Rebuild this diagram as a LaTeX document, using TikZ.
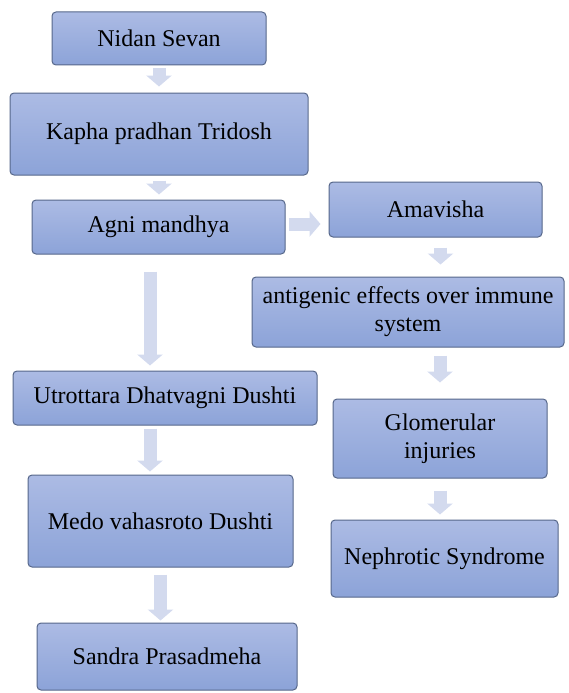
\documentclass[tikz,border=0pt]{standalone}
\usepackage{fontspec}
\setmainfont{LiberationSerif}[Extension=.ttf, UprightFont=*-Regular, BoldFont=*-Bold]
\usetikzlibrary{arrows.meta}
\definecolor{boxtop}{HTML}{ACBBE4}
\definecolor{boxbot}{HTML}{8CA3D8}
\definecolor{boxline}{HTML}{56678A}
\definecolor{flowcol}{HTML}{D3DAEE}

\begin{document}
\begin{tikzpicture}[x=1pt,y=-1pt,
  box/.style={rectangle, rounded corners=4pt, draw=boxline, line width=1pt,
              top color=boxtop, bottom color=boxbot, align=center, inner sep=4pt,
              font=\rmfamily\fontsize{24}{28}\selectfont},
  flow/.style={draw=flowcol, line width=13pt, -{Triangle[width=25pt,length=11pt]}}]
\useasboundingbox (0,0) rectangle (568,693);
\node [box, minimum width=214pt, minimum height=53pt] (nidan) at (159,38.5) {Nidan Sevan};
\node [box, minimum width=298pt, minimum height=82pt] (kapha) at (159,134) {Kapha pradhan Tridosh};
\node [box, minimum width=253pt, minimum height=54pt] (agni) at (158.5,227) {Agni mandhya};
\node [box, minimum width=213pt, minimum height=55pt] (amav) at (435.5,209.5) {Amavisha};
\node [box, minimum width=312pt, minimum height=70pt] (anti) at (408,312) {antigenic effects over immune\\system};
\node [box, minimum width=214pt, minimum height=79pt] (glom) at (440,438.5) {Glomerular\\injuries};
\node [box, minimum width=227pt, minimum height=77pt] (neph) at (444.5,558.5) {Nephrotic Syndrome};
\node [box, minimum width=304pt, minimum height=54pt] (utro) at (165,398) {Utrottara Dhatvagni Dushti};
\node [box, minimum width=265pt, minimum height=92pt] (medo) at (160.5,521) {Medo vahasroto Dushti};
\node [box, minimum width=260pt, minimum height=67pt] (sandra) at (167,656.5) {Sandra Prasadmeha};

\draw [flow, shorten <=3pt, shorten >=6pt] (nidan.south) -- (kapha.north);
\draw [flow, shorten <=5pt, shorten >=5pt] (kapha.south) -- (kapha.south |- agni.north);
\draw [flow, shorten <=3pt, shorten >=8pt] ([yshift=3pt]agni.east) -- ([yshift=3pt]agni.east -| amav.west);
\draw [flow, shorten <=10pt, shorten >=12pt] ([xshift=5pt]amav.south) -- ([xshift=5pt]amav.south |- anti.north);
\draw [flow, shorten <=8pt, shorten >=16pt] (glom.north |- anti.south) -- (glom.north);
\draw [flow, shorten <=12pt, shorten >=5pt] (glom.south) -- (glom.south |- neph.north);
\draw [flow, shorten <=17pt, shorten >=5pt] ([xshift=-8.5pt]agni.south) -- ([xshift=-8.5pt]agni.south |- utro.north);
\draw [flow, shorten <=3pt, shorten >=3pt] ([xshift=-15pt]utro.south) -- ([xshift=-15pt]utro.south |- medo.north);
\draw [flow, shorten <=7pt, shorten >=2pt] (medo.south) -- (medo.south |- sandra.north);
\end{tikzpicture}
\end{document}
